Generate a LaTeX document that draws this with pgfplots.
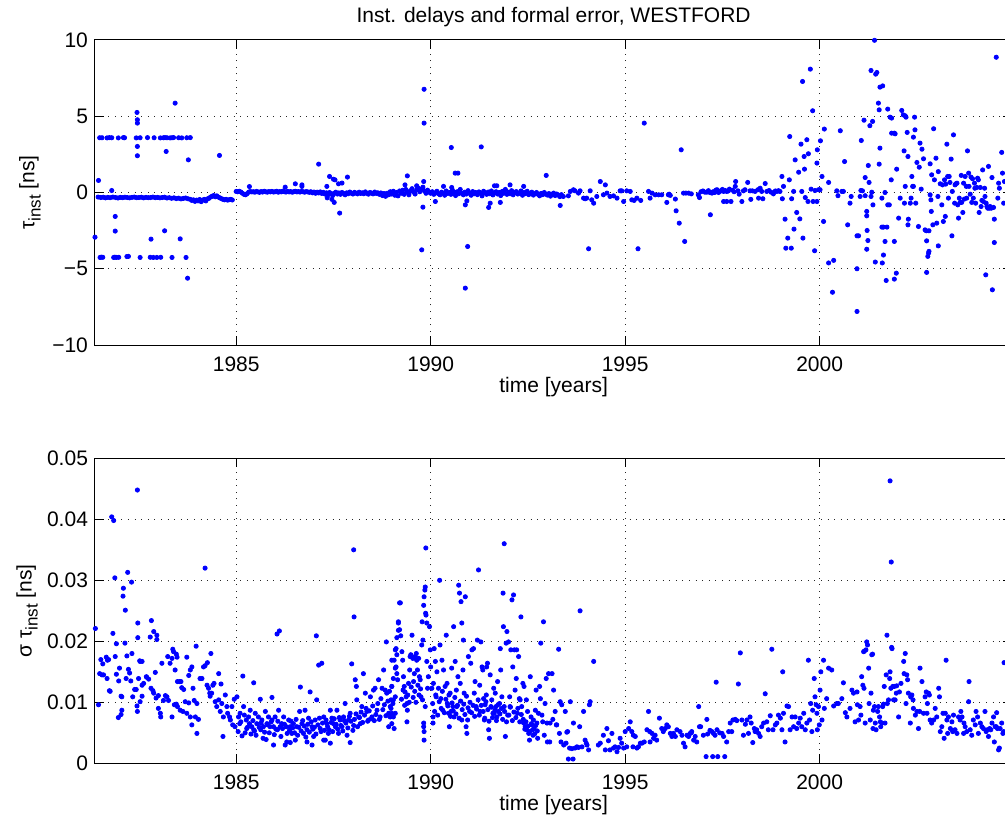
\documentclass[border=0pt]{standalone}
\usepackage{pgfplots}
\pgfplotsset{compat=1.18}
\usepackage{fontspec}
\setmainfont{Liberation Sans}
\definecolor{mblue}{rgb}{0,0,1}
\pgfplotsset{
 mstyle/.style={
  scale only axis, width=458.6pt, height=152.5pt,
  xmin=1981.37, xmax=2004.95,
  xtick={1985,1990,1995,2000}, xticklabels={1985,1990,1995,2000},
  tick align=inside, xtick pos=both, ytick pos=both,
  major tick length=4.5pt,
  grid=major,
  major grid style={draw=black!85, line width=0.5pt, dash pattern=on 0.5pt off 2.8pt},
  axis line style={line width=0.5pt},
  every tick/.style={black, line width=0.5pt},
  tick label style={font=\fontsize{10.5}{12}\selectfont},
  xticklabel style={yshift=-2.2pt},
  label style={font=\fontsize{10.5}{12}\selectfont},
  xlabel={time [years]},
  xlabel style={at={(axis description cs:0.5,-0.1377)}, anchor=center},
  scaled y ticks=false,
 },
 mpts/.style={only marks, mark=*, mark size=1.05pt, color=mblue, mark options={draw=mblue, fill=mblue}},
}
\begin{document}
\begin{tikzpicture}
\useasboundingbox (0,0) rectangle (502.5pt,410pt);
% ---------------- top ----------------
\begin{axis}[mstyle, at={(47.5pt,237.5pt)}, anchor=south west,
  ymin=-10, ymax=10, ytick={-10,-5,0,5,10}, yticklabels={−10,−5,0,5,10},
  ylabel={τ\raisebox{-0.55ex}{\fontsize{8.5}{10}\selectfont inst} [ns]},
  ylabel style={at={(axis description cs:-0.0709,0.5)}, anchor=center},
  title={Inst. delays and formal error, WESTFORD},
  every axis title shift=0pt,
  title style={at={(axis description cs:0.5,1.0754)}, anchor=center, yshift=0pt, font=\fontsize{10.5}{12}\selectfont}]
\addplot[mpts] coordinates {
(1981.49,3.59) (1981.55,3.59) (1981.68,3.58) (1981.74,3.60) (1981.80,3.59) (1981.97,3.58) (1982.10,3.60) (1982.13,3.59) (1982.43,3.58) (1982.53,3.59) (1982.72,3.60) (1982.89,3.59) (1983.05,3.58) (1983.13,3.59) (1983.17,3.60) (1983.22,3.59) (1983.30,3.58) (1983.35,3.59) (1983.39,3.60) (1983.52,3.59) (1983.60,3.58) (1983.73,3.59) (1983.82,3.60)
(1981.50,-4.26) (1981.53,-4.24) (1981.57,-4.25) (1981.85,-4.26) (1981.88,-4.24) (1981.92,-4.26) (1981.98,-4.25) (1982.19,-4.20) (1982.23,-4.19) (1982.53,-4.26) (1982.79,-4.25) (1982.87,-4.26) (1982.96,-4.26) (1983.06,-4.25) (1983.35,-4.26) (1983.71,-4.26)
(1981.37,-2.93) (1981.46,0.79) (1981.80,0.13) (1981.89,-1.57) (1981.89,-2.53) (1982.45,5.25) (1982.46,4.77) (1982.46,4.55) (1982.46,3.02) (1982.46,2.41) (1982.81,-3.06) (1983.16,-2.51) (1983.20,2.69) (1983.43,5.86) (1983.56,-3.04) (1983.75,-5.62) (1983.77,2.14) (1984.57,2.43) (1987.12,1.86) (1987.40,1.05) (1987.50,0.87) (1987.33,0.40) (1986.52,0.57) (1986.69,0.50) (1986.69,0.40) (1985.34,0.39) (1986.26,0.35)
(1981.45,-0.30) (1981.52,-0.33) (1981.58,-0.31) (1981.64,-0.35) (1981.70,-0.32) (1981.76,-0.34) (1981.83,-0.30) (1981.90,-0.33) (1981.96,-0.36) (1982.02,-0.32) (1982.08,-0.34) (1982.14,-0.31) (1982.20,-0.33) (1982.26,-0.35) (1982.32,-0.32) (1982.38,-0.30) (1982.44,-0.34) (1982.50,-0.33) (1982.56,-0.31) (1982.62,-0.35) (1982.68,-0.32) (1982.74,-0.34) (1982.80,-0.33) (1982.86,-0.30) (1982.92,-0.34) (1982.98,-0.32) (1983.04,-0.35) (1983.10,-0.33) (1983.16,-0.31) (1983.22,-0.36) (1983.28,-0.34) (1983.34,-0.38) (1983.40,-0.35) (1983.46,-0.40) (1983.52,-0.37) (1983.58,-0.42) (1983.64,-0.39) (1983.70,-0.36) (1983.76,-0.41)
(1983.82,-0.45) (1983.86,-0.52) (1983.90,-0.48) (1983.94,-0.58) (1983.98,-0.50) (1984.02,-0.55) (1984.06,-0.46) (1984.10,-0.60) (1984.14,-0.50) (1984.18,-0.45) (1984.22,-0.55) (1984.26,-0.42) (1984.30,-0.38)
(1984.34,-0.30) (1984.38,-0.25) (1984.42,-0.20) (1984.46,-0.28) (1984.50,-0.22) (1984.54,-0.30) (1984.58,-0.35) (1984.62,-0.40) (1984.66,-0.45) (1984.70,-0.48) (1984.74,-0.45) (1984.78,-0.50) (1984.82,-0.47) (1984.86,-0.45) (1984.90,-0.49)
(1985.00,0.07) (1985.04,0.05) (1985.08,0.08) (1985.12,0.03) (1985.16,-0.05) (1985.20,-0.12) (1985.24,-0.15) (1985.28,-0.08) (1985.32,0.02) (1985.36,0.06) (1985.40,0.04)
(1985.44,0.05) (1985.48,0.02) (1985.52,0.07) (1985.56,0.04) (1985.60,0.01) (1985.64,0.06) (1985.68,0.03) (1985.72,0.08) (1985.76,0.05) (1985.80,0.02) (1985.84,0.06) (1985.88,0.04) (1985.92,0.07) (1985.96,0.03) (1986.00,0.05) (1986.04,0.08) (1986.08,0.02) (1986.12,0.06) (1986.16,0.04) (1986.20,0.09) (1986.24,0.05) (1986.28,0.03) (1986.32,0.07) (1986.36,0.04) (1986.40,0.06) (1986.44,0.02) (1986.48,0.05) (1986.52,0.08) (1986.56,0.04) (1986.60,0.06) (1986.64,0.03) (1986.68,0.07) (1986.72,0.05) (1986.76,0.02) (1986.80,0.06) (1986.84,0.04) (1986.88,0.01) (1986.92,0.05) (1986.96,-0.02) (1987.00,0.03) (1987.04,-0.05) (1987.08,0.02) (1987.12,-0.03) (1987.16,0.04) (1987.20,-0.06) (1987.24,0.01) (1987.28,-0.10) (1987.32,-0.02) (1987.36,-0.15) (1987.40,0.00) (1987.44,-0.08) (1987.48,-0.20) (1987.34,-0.35) (1987.46,-0.45) (1987.52,-0.65)
(1987.52,-0.05) (1987.56,0.02) (1987.60,-0.10) (1987.64,-0.03) (1987.68,-0.12) (1987.72,0.00) (1987.76,-0.06) (1987.80,-0.15) (1987.84,-0.02) (1987.88,-0.08) (1987.92,0.03) (1987.96,-0.05) (1988.00,-0.10) (1988.04,0.01) (1988.08,-0.04) (1988.12,-0.09) (1988.16,0.02) (1988.20,-0.06) (1988.24,-0.02) (1988.28,-0.08) (1988.32,0.04) (1988.36,-0.05) (1988.40,-0.11) (1988.44,0.00) (1988.48,-0.04) (1988.52,-0.09) (1988.56,0.03) (1988.60,-0.06) (1988.64,-0.02) (1988.68,-0.12) (1988.72,-0.03) (1988.76,-0.20) (1988.80,-0.07) (1988.84,-0.25) (1988.88,-0.05) (1988.92,-0.15) (1988.96,0.05) (1989.00,-0.10) (1989.04,0.08) (1989.08,-0.18) (1989.12,0.00) (1989.16,-0.22) (1989.20,0.10) (1989.24,-0.05) (1989.28,0.15) (1989.32,-0.12) (1989.36,0.20) (1989.40,0.05) (1989.44,-0.15) (1989.48,0.12) (1989.52,0.25) (1989.56,0.02) (1989.60,-0.10) (1989.64,0.18) (1989.68,0.30) (1989.72,0.05) (1989.76,0.22) (1989.80,0.35) (1989.84,0.10) (1989.88,-0.05) (1989.92,0.15) (1989.96,0.02)
(1990.00,-0.05) (1990.04,0.05) (1990.08,-0.12) (1990.12,-0.02) (1990.16,0.08) (1990.20,-0.08) (1990.24,-0.15) (1990.28,0.02) (1990.32,-0.05) (1990.36,-0.18) (1990.40,0.10) (1990.44,-0.06) (1990.48,0.00) (1990.52,-0.12) (1990.56,0.15) (1990.60,-0.03) (1990.64,-0.20) (1990.68,0.05) (1990.72,-0.08) (1990.76,0.20) (1990.80,-0.05) (1990.84,-0.15) (1990.88,0.02) (1990.92,-0.10) (1990.96,0.12) (1991.00,-0.04) (1991.04,-0.18) (1991.08,0.06) (1991.12,-0.08) (1991.16,0.00) (1991.20,-0.14) (1991.24,0.04) (1991.28,-0.06) (1991.32,-0.22) (1991.36,0.08) (1991.40,-0.02) (1991.44,-0.12) (1991.48,0.03) (1991.52,-0.08) (1991.56,0.10) (1991.60,-0.16) (1991.64,-0.03) (1991.68,0.05) (1991.72,-0.10) (1991.76,0.00) (1991.80,-0.20) (1991.84,0.07) (1991.88,-0.05) (1991.92,0.20) (1991.96,-0.12) (1992.00,0.02) (1992.04,-0.08) (1992.08,0.12) (1992.12,-0.15) (1992.16,-0.02) (1992.20,0.06) (1992.24,-0.10) (1992.28,-0.04) (1992.32,0.10) (1992.36,-0.18) (1992.40,0.00) (1992.44,-0.07) (1992.48,0.08) (1992.52,-0.14) (1992.56,-0.06) (1992.60,0.02) (1992.64,-0.17) (1992.68,-0.08) (1992.72,0.00) (1992.76,-0.12) (1992.80,-0.22) (1992.84,-0.06) (1992.88,-0.14) (1992.92,0.00) (1992.96,-0.10) (1993.00,-0.17) (1993.04,-0.07) (1993.08,-0.24) (1993.12,-0.12) (1993.16,-0.04) (1993.20,-0.20) (1993.24,-0.10) (1993.28,-0.17) (1993.32,-0.27) (1993.36,-0.14)
(1989.83,6.77) (1989.83,4.55) (1989.77,-3.76) (1989.80,-0.96) (1990.53,2.95) (1991.30,2.99) (1990.63,1.27) (1990.70,1.27) (1990.95,-3.54) (1990.89,-6.27) (1992.97,1.12) (1994.06,-3.69) (1995.33,-3.69) (1995.49,4.55) (1994.36,0.72) (1994.49,0.50) (1987.66,-1.35) (1987.54,0.83) (1987.63,0.57) (1987.72,0.62) (1987.86,1.01) (1989.40,1.09) (1989.34,0.50) (1989.64,0.44) (1989.82,0.72) (1991.49,-0.98) (1991.53,-0.70) (1991.79,-0.65) (1990.89,-0.81) (1990.93,-0.55) (1990.12,-0.59) (1993.33,-0.85) (1994.19,-0.70) (1992.04,0.50) (1991.64,0.44) (1991.70,0.44) (1992.39,0.40) (1990.33,0.40) (1990.54,0.33)
(1993.41,-0.26) (1993.54,-0.22) (1993.59,0.07) (1993.67,0.18) (1993.71,0.11) (1993.80,-0.04) (1993.84,0.11) (1993.93,-0.37) (1993.97,-0.41) (1994.01,-0.37) (1994.10,0.11) (1994.14,-0.48) (1994.27,-0.26) (1994.44,-0.15) (1994.53,-0.04) (1994.61,-0.26) (1994.70,-0.22) (1994.79,-0.37) (1994.87,0.11) (1994.91,0.11) (1994.96,-0.59) (1995.04,0.11) (1995.13,0.07) (1995.17,-0.48) (1995.23,-0.52) (1995.30,-0.37) (1995.40,-0.52) (1995.60,0.07) (1995.64,-0.37) (1995.69,-0.04) (1995.77,-0.15) (1995.86,-0.15) (1995.94,-0.15) (1996.11,-0.15)
(1996.07,-0.65) (1996.13,-0.11) (1996.16,-0.19) (1996.29,-0.43) (1996.31,-1.20) (1996.39,-2.01) (1996.44,2.80) (1996.53,-3.21) (1996.50,-0.04) (1996.56,-0.04) (1996.63,-0.04) (1996.70,-0.09) (1996.88,-0.15) (1996.91,-0.33) (1997.10,0.02) (1997.18,0.00) (1997.19,-1.46) (1997.23,-0.04) (1997.30,0.00) (1997.36,0.18) (1997.40,0.00) (1997.47,0.13) (1997.53,0.07) (1997.57,0.13) (1997.61,0.07) (1997.53,-0.59) (1997.61,-0.59) (1997.72,-0.59)
(1996.95,0.05) (1997.00,0.10) (1997.05,0.02) (1997.14,0.12) (1997.26,0.05) (1997.33,0.15) (1997.44,0.08) (1997.50,0.20) (1997.65,0.10) (1997.68,0.22) (1997.76,0.15) (1997.80,0.05)
(1997.83,0.40) (1997.84,0.72) (1997.90,0.11) (1997.93,-0.11) (1998.00,-0.59) (1998.04,0.11) (1998.08,0.18) (1998.15,0.66) (1998.21,0.11) (1998.23,-0.45) (1998.27,0.11) (1998.34,0.07) (1998.41,0.18) (1998.43,-0.37) (1998.47,0.28) (1998.51,0.07) (1998.54,-0.41) (1998.60,0.59) (1998.64,0.07) (1998.70,0.13) (1998.75,0.02) (1998.81,-0.09) (1998.86,0.10) (1998.90,0.07) (1998.94,0.12) (1998.98,0.07) (1999.03,1.05) (1999.04,-0.41) (1999.07,0.40) (1999.11,-1.75) (1999.13,-3.65) (1999.18,-2.99) (1999.22,0.83) (1999.23,3.67) (1999.27,-3.65) (1999.28,-0.41) (1999.33,0.07) (1999.34,-2.40) (1999.37,2.14) (1999.41,-1.31) (1999.46,1.33) (1999.49,-1.73) (1999.52,3.17) (1999.54,0.07) (1999.56,7.28) (1999.57,-2.99) (1999.60,2.36) (1999.61,1.53) (1999.63,-0.33) (1999.67,3.46) (1999.70,-0.59) (1999.71,2.54) (1999.76,8.09) (1999.78,0.22) (1999.82,5.36) (1999.83,-0.59) (1999.87,-3.82) (1999.88,0.13) (1999.93,-0.59) (1999.93,1.93) (1999.94,2.80) (1999.97,0.18) (2000.01,0.18) (2000.02,3.39) (2000.06,1.05) (2000.10,-1.90) (2000.12,4.16)
(2000.23,-4.62) (2000.23,0.66) (2000.33,-6.54) (2000.36,-4.45) (2000.44,0.11) (2000.47,-0.21) (2000.53,4.05) (2000.57,0.07) (2000.61,0.07) (2000.64,2.03) (2000.72,-2.12) (2000.78,-0.70) (2000.81,-0.26) (2000.96,-7.80) (2000.96,-5.00) (2000.96,-2.84) (2001.00,-2.84) (2001.04,-0.26) (2001.06,0.13) (2001.07,3.41) (2001.10,0.11) (2001.14,4.74) (2001.17,0.98) (2001.17,-0.21) (2001.21,-1.24) (2001.21,-1.53) (2001.21,-3.72) (2001.22,-2.49) (2001.24,-3.15) (2001.25,1.77) (2001.27,0.66) (2001.29,4.38) (2001.32,8.00) (2001.32,-0.26) (2001.34,0.02) (2001.36,4.66) (2001.37,-0.81) (2001.41,9.98) (2001.43,-4.56) (2001.44,7.76) (2001.47,7.87) (2001.51,5.86) (2001.53,1.86) (2001.53,5.42) (2001.55,2.91) (2001.55,6.91) (2001.60,-0.37) (2001.60,-2.27) (2001.61,-4.62) (2001.62,6.99) (2001.64,-2.27) (2001.64,-4.10) (2001.68,0.00) (2001.68,-3.21) (2001.71,-5.77) (2001.73,-2.27) (2001.75,-0.81) (2001.75,5.47) (2001.79,-0.81) (2001.81,4.94) (2001.84,0.83) (2001.85,3.89) (2001.85,4.88) (2001.92,3.89) (2001.92,-5.68) (2001.92,-3.21) (2001.94,3.85) (2001.97,-5.29) (2001.98,1.53)
(2002.03,-1.68) (2002.07,-0.37) (2002.11,5.38) (2002.15,5.09) (2002.17,2.73) (2002.18,-0.70) (2002.20,5.03) (2002.20,0.40) (2002.22,4.94) (2002.25,3.94) (2002.27,-2.12) (2002.27,2.36) (2002.28,-1.75) (2002.33,-0.70) (2002.35,-0.37) (2002.37,1.05) (2002.39,0.40) (2002.41,0.40) (2002.41,3.63) (2002.44,4.94) (2002.45,4.11) (2002.47,-0.70) (2002.50,1.97) (2002.54,-2.23) (2002.56,1.66) (2002.58,3.24) (2002.61,0.22) (2002.63,2.84) (2002.67,2.21) (2002.71,-2.45) (2002.74,-2.51) (2002.75,-3.17) (2002.75,-5.24) (2002.78,-4.19) (2002.80,-3.97) (2002.81,-3.86) (2002.81,-2.51) (2002.84,1.88) (2002.84,-0.15) (2002.86,-0.48) (2002.87,-1.24) (2002.88,1.16) (2002.91,-2.12) (2002.93,4.18) (2002.95,0.83) (2002.99,2.25)
(2003.01,-2.01) (2003.04,-0.26) (2003.05,-3.50) (2003.05,1.37) (2003.10,0.57) (2003.14,-0.81) (2003.16,0.50) (2003.18,-1.90) (2003.21,0.83) (2003.23,-1.57) (2003.24,0.55) (2003.27,3.17) (2003.29,1.05) (2003.31,-0.37) (2003.33,1.05) (2003.35,0.66) (2003.38,2.19) (2003.40,-2.84) (2003.41,0.07) (2003.44,3.78) (2003.47,-0.70) (2003.48,0.50) (2003.50,0.57) (2003.53,0.61) (2003.55,-0.81) (2003.57,-1.68) (2003.59,-0.37) (2003.61,-0.65) (2003.64,1.12) (2003.65,-0.65) (2003.68,-1.31) (2003.70,0.61) (2003.72,-0.43) (2003.74,1.05) (2003.77,0.40) (2003.78,-0.37) (2003.80,2.73) (2003.83,1.27) (2003.84,0.40) (2003.87,-0.11) (2003.89,1.01) (2003.91,-0.65) (2003.93,0.90) (2003.95,-0.37) (2003.98,0.61) (2003.99,0.28)
(2004.01,-0.70) (2004.04,0.33) (2004.06,0.94) (2004.08,0.83) (2004.10,-1.31) (2004.13,0.33) (2004.15,-0.92) (2004.17,-0.52) (2004.19,1.48) (2004.21,-0.59) (2004.24,0.28) (2004.25,-0.26) (2004.27,-5.40) (2004.28,-0.70) (2004.30,-0.92) (2004.32,-1.03) (2004.34,1.71) (2004.36,-1.03) (2004.38,-0.92) (2004.41,-1.03) (2004.43,0.98) (2004.44,-6.38) (2004.47,-0.98) (2004.49,-1.75) (2004.49,-3.28) (2004.54,8.87) (2004.58,-0.37) (2004.60,0.61) (2004.62,0.28) (2004.68,2.63) (2004.70,1.27) (2004.73,-0.70) (2004.75,0.72)
};
\end{axis}
% ---------------- bottom ----------------
\begin{axis}[mstyle, at={(47.5pt,28.35pt)}, anchor=south west,
  ymin=0, ymax=0.05, ytick={0,0.01,0.02,0.03,0.04,0.05}, yticklabels={0,0.01,0.02,0.03,0.04,0.05},
  ylabel={σ τ\raisebox{-0.55ex}{\fontsize{8.5}{10}\selectfont inst} [ns]},
  ylabel style={at={(axis description cs:-0.0741,0.5)}, anchor=center}]
\addplot[mpts] coordinates {
(1981.38,0.0221) (1981.46,0.0096) (1981.49,0.0147) (1981.55,0.0145) (1981.59,0.0145) (1981.52,0.0170) (1981.57,0.0163) (1981.66,0.0174) (1981.69,0.0169) (1981.72,0.0170) (1981.68,0.0139) (1981.74,0.0119) (1981.76,0.0118) (1981.83,0.0213) (1981.88,0.0304) (1981.92,0.0196) (1981.89,0.0175) (1981.92,0.0146) (1981.98,0.0135) (1982.00,0.0156) (1982.04,0.0110) (1982.06,0.0109) (1982.04,0.0080) (1982.06,0.0087) (1981.97,0.0075) (1982.09,0.0274) (1982.10,0.0287) (1982.15,0.0251) (1982.14,0.0197) (1982.17,0.0139) (1982.21,0.0313) (1982.23,0.0154) (1982.26,0.0148) (1982.29,0.0135) (1982.31,0.0297) (1982.19,0.0176) (1982.32,0.0180) (1982.34,0.0109) (1982.39,0.0121) (1982.43,0.0121) (1982.45,0.0094) (1982.46,0.0085) (1982.47,0.0230) (1982.47,0.0206) (1982.49,0.0139) (1982.52,0.0168) (1982.53,0.0167) (1982.58,0.0167) (1982.53,0.0101) (1982.58,0.0110) (1982.58,0.0128) (1982.62,0.0131) (1982.69,0.0142) (1982.70,0.0141) (1982.75,0.0138) (1982.79,0.0207) (1982.82,0.0234) (1982.88,0.0216) (1982.96,0.0210) (1982.96,0.0203) (1982.81,0.0123) (1982.86,0.0119) (1982.88,0.0115) (1982.92,0.0149) (1982.94,0.0107) (1983.00,0.0111) (1983.00,0.0090) (1983.05,0.0082) (1983.06,0.0076) (1983.13,0.0103) (1983.18,0.0111) (1983.22,0.0109) (1983.26,0.0103) (1983.09,0.0164) (1983.24,0.0175) (1983.30,0.0164) (1983.35,0.0172) (1983.37,0.0187) (1983.39,0.0183) (1983.43,0.0153) (1983.46,0.0179) (1983.48,0.0174) (1983.49,0.0134) (1983.54,0.0134) (1983.58,0.0134) (1983.35,0.0076) (1983.41,0.0096) (1983.46,0.0097) (1983.49,0.0093) (1983.56,0.0087) (1983.63,0.0085) (1983.69,0.0101) (1983.73,0.0082) (1983.78,0.0099) (1983.60,0.0124) (1983.65,0.0121) (1983.73,0.0174) (1983.78,0.0144) (1983.82,0.0153) (1983.86,0.0158) (1983.89,0.0123) (1983.92,0.0103) (1983.97,0.0192) (1983.99,0.0098) (1983.82,0.0076) (1983.86,0.0063) (1983.95,0.0076) (1983.99,0.0049) (1984.03,0.0072) (1984.07,0.0139) (1984.12,0.0139) (1984.16,0.0158) (1984.20,0.0160) (1984.20,0.0320) (1984.25,0.0128) (1984.26,0.0165) (1984.29,0.0123) (1984.32,0.0115) (1984.33,0.0110) (1984.35,0.0180) (1984.37,0.0115) (1984.40,0.0128) (1984.43,0.0131) (1984.46,0.0101) (1984.50,0.0093) (1984.55,0.0104) (1984.55,0.0147) (1984.59,0.0085) (1984.61,0.0130) (1984.63,0.0098) (1984.66,0.0044) (1984.67,0.0076) (1984.72,0.0112) (1984.76,0.0093) (1984.78,0.0082) (1984.83,0.0076) (1984.85,0.0071) (1984.89,0.0093) (1984.91,0.0063) (1984.95,0.0105) (1984.97,0.0060) (1985.02,0.0109) (1985.06,0.0076) (1985.09,0.0065) (1985.10,0.0082) (1985.17,0.0143)
(1981.80,0.0404) (1981.85,0.0398) (1982.46,0.0448) (1986.05,0.0212) (1986.11,0.0217) (1987.06,0.0209)
(1985.19,0.0093) (1985.23,0.0050) (1985.26,0.0071) (1985.27,0.0057) (1985.32,0.0076) (1985.34,0.0065) (1985.36,0.0087) (1985.40,0.0060) (1985.45,0.0132) (1985.45,0.0055) (1985.49,0.0082) (1985.53,0.0065) (1985.57,0.0076) (1985.62,0.0105) (1985.63,0.0055) (1985.66,0.0071) (1985.69,0.0041) (1985.70,0.0060) (1985.75,0.0085) (1985.79,0.0065) (1985.83,0.0076) (1985.87,0.0060) (1985.92,0.0108) (1985.92,0.0071) (1985.96,0.0060) (1986.00,0.0076) (1986.06,0.0055) (1986.09,0.0087) (1986.13,0.0060) (1986.17,0.0065) (1986.22,0.0076) (1986.26,0.0030) (1986.29,0.0060) (1986.35,0.0071) (1986.39,0.0060) (1986.43,0.0049) (1986.47,0.0065) (1986.52,0.0038) (1986.56,0.0060) (1986.63,0.0085) (1986.65,0.0125) (1986.69,0.0065) (1986.73,0.0049) (1986.77,0.0087) (1986.82,0.0055) (1986.86,0.0074) (1986.90,0.0117) (1986.95,0.0060) (1986.99,0.0044) (1987.03,0.0071) (1987.07,0.0104) (1987.12,0.0161) (1987.16,0.0057) (1987.20,0.0164) (1987.25,0.0076) (1987.29,0.0038) (1987.33,0.0065) (1987.37,0.0049) (1987.42,0.0087) (1987.46,0.0074) (1987.50,0.0065) (1987.55,0.0060) (1987.59,0.0087) (1987.63,0.0049) (1987.67,0.0071) (1987.72,0.0060) (1987.76,0.0076) (1987.80,0.0098) (1987.85,0.0046) (1987.89,0.0071) (1987.93,0.0082) (1987.97,0.0163) (1988.02,0.0062) (1988.02,0.0350) (1988.03,0.0240) (1988.06,0.0137) (1988.09,0.0126) (1988.10,0.0104) (1988.15,0.0076) (1988.19,0.0065) (1988.23,0.0093) (1988.27,0.0147) (1988.32,0.0115) (1988.36,0.0085) (1988.40,0.0071) (1988.45,0.0109) (1988.49,0.0076) (1988.53,0.0120) (1988.57,0.0123) (1988.62,0.0087) (1988.66,0.0137) (1988.70,0.0076) (1988.75,0.0123) (1988.79,0.0153) (1988.83,0.0120) (1988.86,0.0199) (1988.87,0.0115) (1988.92,0.0060) (1988.96,0.0093) (1989.00,0.0169) (1989.04,0.0104) (1989.09,0.0109) (1989.11,0.0188) (1989.13,0.0206) (1989.17,0.0232) (1989.20,0.0263) (1989.17,0.0218) (1989.13,0.0178) (1989.09,0.0156) (1989.04,0.0139) (1989.00,0.0126) (1988.96,0.0076) (1988.92,0.0082) (1989.00,0.0065) (1989.09,0.0082) (1989.06,0.0057)
(1985.05,0.0052) (1985.12,0.0068) (1985.15,0.0045) (1985.21,0.0079) (1985.29,0.0059) (1985.38,0.0048) (1985.43,0.0070) (1985.47,0.0053) (1985.51,0.0046) (1985.59,0.0059) (1985.64,0.0066) (1985.73,0.0051) (1985.77,0.0039) (1985.81,0.0063) (1985.85,0.0050) (1985.90,0.0068) (1985.98,0.0047) (1986.02,0.0056) (1986.07,0.0069) (1986.15,0.0044) (1986.19,0.0057) (1986.24,0.0064) (1986.31,0.0049) (1986.37,0.0054) (1986.41,0.0069) (1986.45,0.0058) (1986.50,0.0050) (1986.54,0.0072) (1986.58,0.0046) (1986.61,0.0059) (1986.67,0.0053) (1986.71,0.0070) (1986.75,0.0061) (1986.79,0.0043) (1986.84,0.0064) (1986.88,0.0051) (1986.93,0.0068) (1986.97,0.0056) (1987.01,0.0059) (1987.05,0.0048) (1987.10,0.0063) (1987.14,0.0074) (1987.18,0.0052) (1987.22,0.0066) (1987.27,0.0054) (1987.31,0.0071) (1987.35,0.0060) (1987.39,0.0055) (1987.44,0.0067) (1987.48,0.0052) (1987.52,0.0073) (1987.57,0.0064) (1987.61,0.0056) (1987.65,0.0075) (1987.69,0.0062) (1987.74,0.0053) (1987.78,0.0070) (1987.82,0.0066) (1987.87,0.0058) (1987.91,0.0077) (1987.95,0.0069) (1988.00,0.0054) (1988.04,0.0072) (1988.08,0.0081) (1988.12,0.0060) (1988.17,0.0075) (1988.21,0.0084) (1988.25,0.0067) (1988.30,0.0079) (1988.34,0.0090) (1988.38,0.0069) (1988.42,0.0086) (1988.47,0.0073) (1988.51,0.0094) (1988.55,0.0070) (1988.59,0.0080) (1988.64,0.0098) (1988.68,0.0072) (1988.72,0.0106) (1988.77,0.0088) (1988.81,0.0096) (1988.85,0.0078) (1988.90,0.0102) (1988.94,0.0118) (1988.98,0.0090)
(1985.96,0.0030) (1986.39,0.0034) (1986.82,0.0035) (1986.95,0.0030) (1987.25,0.0038) (1987.42,0.0033) (1987.93,0.0034) (1986.30,0.0035)
(1989.25,0.0105) (1989.29,0.0120) (1989.33,0.0095) (1989.41,0.0112) (1989.45,0.0100) (1989.50,0.0125) (1989.55,0.0108) (1989.59,0.0118) (1989.62,0.0100) (1989.67,0.0128) (1989.70,0.0112) (1989.74,0.0122) (1989.79,0.0104)
(1990.05,0.0098) (1990.10,0.0085) (1990.13,0.0112) (1990.18,0.0079) (1990.22,0.0101) (1990.27,0.0090) (1990.30,0.0118) (1990.35,0.0083) (1990.39,0.0105) (1990.44,0.0094) (1990.47,0.0112) (1990.51,0.0077) (1990.55,0.0099) (1990.58,0.0086) (1990.62,0.0108) (1990.65,0.0081) (1990.69,0.0095) (1990.73,0.0074) (1990.77,0.0102) (1990.81,0.0088) (1990.85,0.0097) (1990.88,0.0080) (1990.92,0.0110) (1990.96,0.0091) (1991.01,0.0100) (1991.05,0.0083) (1991.09,0.0095) (1991.13,0.0077) (1991.18,0.0089) (1991.22,0.0104) (1991.25,0.0079) (1991.30,0.0095) (1991.35,0.0085) (1991.39,0.0074) (1991.42,0.0101) (1991.47,0.0088) (1991.50,0.0069) (1991.56,0.0092) (1991.59,0.0075) (1991.65,0.0087) (1991.69,0.0070) (1991.73,0.0096) (1991.78,0.0081) (1991.82,0.0090) (1991.85,0.0072) (1991.90,0.0085) (1991.95,0.0068) (1992.01,0.0079) (1992.05,0.0092) (1992.10,0.0070) (1992.14,0.0084) (1992.19,0.0075) (1992.24,0.0090) (1992.29,0.0068) (1992.33,0.0080) (1992.38,0.0072) (1992.42,0.0056) (1992.45,0.0068) (1992.50,0.0061) (1992.55,0.0052) (1992.59,0.0065) (1992.62,0.0055) (1992.67,0.0048) (1992.70,0.0062) (1992.74,0.0053)
(1989.00,0.0126) (1988.98,0.0104) (1989.03,0.0098) (1989.00,0.0082) (1989.04,0.0076) (1989.06,0.0169) (1989.09,0.0186) (1989.11,0.0158) (1989.13,0.0147) (1989.15,0.0137) (1989.17,0.0230) (1989.20,0.0219) (1989.22,0.0263) (1989.23,0.0209) (1989.26,0.0183) (1989.28,0.0169) (1989.30,0.0142) (1989.32,0.0126) (1989.34,0.0117) (1989.37,0.0109) (1989.39,0.0098) (1989.40,0.0087) (1989.39,0.0068) (1989.43,0.0131) (1989.46,0.0153) (1989.47,0.0175) (1989.49,0.0178) (1989.52,0.0210) (1989.54,0.0172) (1989.56,0.0134) (1989.58,0.0147) (1989.60,0.0175) (1989.63,0.0180) (1989.64,0.0169) (1989.66,0.0153) (1989.69,0.0172) (1989.71,0.0142) (1989.73,0.0137) (1989.75,0.0109) (1989.77,0.0194) (1989.78,0.0232) (1989.80,0.0202) (1989.82,0.0259) (1989.83,0.0273) (1989.85,0.0284) (1989.86,0.0289) (1989.87,0.0246) (1989.88,0.0243) (1989.90,0.0230) (1989.90,0.0167) (1989.92,0.0123) (1989.94,0.0142) (1989.82,0.0066) (1989.82,0.0060) (1989.83,0.0052) (1989.83,0.0038) (1989.86,0.0093) (1989.875,0.0353) (1989.97,0.0224) (1989.99,0.0186) (1990.00,0.0158) (1990.03,0.0123) (1990.06,0.0076) (1990.06,0.0066) (1990.07,0.0131) (1990.09,0.0188) (1990.12,0.0167) (1990.14,0.0109) (1990.16,0.0150) (1990.20,0.0123) (1990.23,0.0300) (1990.24,0.0194) (1990.26,0.0106) (1990.29,0.0169) (1990.31,0.0087) (1990.33,0.0153) (1990.37,0.0126) (1990.40,0.0210) (1990.42,0.0131) (1990.43,0.0098) (1990.46,0.0082) (1990.48,0.0060) (1990.50,0.0115) (1990.52,0.0085) (1990.54,0.0156) (1990.57,0.0093) (1990.59,0.0224) (1990.60,0.0076) (1990.63,0.0167) (1990.66,0.0120) (1990.67,0.0093) (1990.70,0.0142) (1990.72,0.0292) (1990.74,0.0279) (1990.76,0.0131) (1990.78,0.0265) (1990.80,0.0230) (1990.80,0.0071) (1990.83,0.0153) (1990.84,0.0202) (1990.86,0.0115) (1990.89,0.0273) (1990.91,0.0060) (1990.93,0.0049) (1990.95,0.0071) (1990.97,0.0175) (1991.00,0.0085) (1991.03,0.0164) (1991.06,0.0186) (1991.10,0.0188) (1991.12,0.0115) (1991.14,0.0134) (1991.17,0.0093) (1991.20,0.0202) (1991.23,0.0317) (1991.26,0.0128) (1991.27,0.0085) (1991.29,0.0199) (1991.32,0.0158) (1991.34,0.0153) (1991.36,0.0106) (1991.38,0.0071) (1991.40,0.0096) (1991.43,0.0112) (1991.44,0.0158) (1991.46,0.0164) (1991.49,0.0055) (1991.51,0.0041) (1991.53,0.0145) (1991.55,0.0093) (1991.57,0.0104) (1991.60,0.0082) (1991.62,0.0123) (1991.63,0.0082) (1991.66,0.0115) (1991.68,0.0093) (1991.70,0.0076) (1991.72,0.0134) (1991.74,0.0085) (1991.77,0.0098) (1991.79,0.0188) (1991.80,0.0153) (1991.83,0.0109) (1991.86,0.0279) (1991.87,0.0224) (1991.89,0.0093) (1991.89,0.0360) (1991.92,0.0044) (1991.94,0.0197) (1991.96,0.0216) (1991.98,0.0079) (1992.00,0.0199) (1992.03,0.0109) (1992.04,0.0093) (1992.06,0.0186) (1992.09,0.0268) (1992.11,0.0158) (1992.13,0.0276) (1992.15,0.0186) (1992.17,0.0120) (1992.20,0.0139) (1992.21,0.0186) (1992.23,0.0082) (1992.26,0.0175) (1992.28,0.0106) (1992.30,0.0104) (1992.32,0.0240) (1992.34,0.0093) (1992.37,0.0131) (1992.39,0.0066) (1992.40,0.0126) (1992.43,0.0060) (1992.46,0.0104) (1992.47,0.0055) (1992.49,0.0085) (1992.52,0.0049) (1992.54,0.0038) (1992.56,0.0142) (1992.58,0.0076) (1992.60,0.0063) (1992.63,0.0046) (1992.64,0.0071) (1992.66,0.0057) (1992.69,0.0087) (1992.71,0.0120) (1992.73,0.0066) (1992.75,0.0041) (1992.77,0.0082) (1992.80,0.0126) (1992.82,0.0106) (1992.83,0.0197) (1992.86,0.0079) (1992.88,0.0068) (1992.90,0.0232) (1992.92,0.0046) (1992.94,0.0098) (1992.97,0.0139) (1992.99,0.0066) (1993.00,0.0035) (1993.03,0.0147) (1993.06,0.0035) (1993.07,0.0066) (1993.12,0.0147) (1993.14,0.0072) (1993.16,0.0120) (1993.20,0.0085) (1993.23,0.0063) (1993.24,0.0063) (1993.29,0.0187) (1993.31,0.0049) (1993.33,0.0101) (1993.35,0.0035) (1993.37,0.0096) (1993.42,0.0030) (1993.46,0.0085) (1993.48,0.0033) (1993.50,0.0051) (1993.52,0.0052) (1993.54,0.0007) (1993.57,0.0025) (1993.59,0.0101) (1993.63,0.0024) (1993.66,0.0007) (1993.67,0.0066) (1993.71,0.0025) (1993.76,0.0027) (1993.80,0.0026) (1993.83,0.0060) (1993.84,0.0250) (1993.89,0.0027) (1993.93,0.0085) (1993.97,0.0038) (1994.00,0.0033) (1994.02,0.0030) (1994.06,0.0022) (1994.08,0.0096) (1994.10,0.0101) (1994.19,0.0167) (1994.31,0.0030) (1994.36,0.0033) (1994.44,0.0046) (1994.49,0.0022) (1994.53,0.0057) (1994.57,0.0037) (1994.61,0.0022) (1994.66,0.0049) (1994.70,0.0025) (1994.74,0.0027) (1994.79,0.0019) (1994.83,0.0026) (1994.87,0.0041) (1994.91,0.0033) (1994.96,0.0025) (1995.00,0.0052) (1995.04,0.0027) (1995.09,0.0057) (1995.13,0.0068) (1995.17,0.0052) (1995.20,0.0027) (1995.21,0.0046) (1995.26,0.0044) (1995.30,0.0025) (1995.34,0.0027) (1995.39,0.0033) (1995.43,0.0033) (1995.49,0.0035) (1995.56,0.0055) (1995.60,0.0085) (1995.63,0.0052) (1995.64,0.0035) (1995.69,0.0049) (1995.73,0.0041) (1995.77,0.0046) (1995.81,0.0038) (1995.88,0.0074) (1995.94,0.0057) (1995.98,0.0052) (1996.03,0.0057) (1996.07,0.0063) (1996.11,0.0060) (1996.16,0.0049) (1996.20,0.0044) (1996.24,0.0049) (1996.29,0.0044) (1996.33,0.0055) (1996.41,0.0052) (1996.46,0.0046) (1996.50,0.0033) (1996.54,0.0027) (1996.59,0.0046) (1996.63,0.0044) (1996.67,0.0049) (1996.71,0.0052) (1996.80,0.0044) (1996.84,0.0035) (1996.89,0.0093) (1996.91,0.0060)
(1996.70,0.0050) (1996.76,0.0038) (1996.94,0.0060) (1997.01,0.0046) (1997.08,0.0011) (1997.10,0.0072) (1997.12,0.0048) (1997.18,0.0054) (1997.23,0.0052) (1997.25,0.0011) (1997.27,0.0049) (1997.31,0.0046) (1997.34,0.0133) (1997.36,0.0055) (1997.38,0.0011) (1997.43,0.0050) (1997.49,0.0049) (1997.53,0.0044) (1997.56,0.0011) (1997.61,0.0035) (1997.66,0.0052) (1997.70,0.0066) (1997.74,0.0052) (1997.77,0.0071) (1997.83,0.0072) (1997.87,0.0070) (1997.91,0.0130) (1997.96,0.0181) (1998.00,0.0071) (1998.04,0.0046) (1998.09,0.0064) (1998.13,0.0071) (1998.17,0.0049) (1998.21,0.0076) (1998.24,0.0066) (1998.28,0.0034) (1998.32,0.0057) (1998.34,0.0052) (1998.38,0.0055) (1998.43,0.0049) (1998.47,0.0044) (1998.51,0.0060) (1998.56,0.0066) (1998.60,0.0114) (1998.64,0.0068) (1998.68,0.0055) (1998.73,0.0078) (1998.77,0.0187) (1998.80,0.0055) (1998.86,0.0063) (1998.90,0.0066) (1998.94,0.0079) (1998.99,0.0074) (1999.03,0.0055) (1999.05,0.0150) (1999.07,0.0082) (1999.11,0.0035) (1999.16,0.0094) (1999.20,0.0093) (1999.24,0.0055) (1999.29,0.0076) (1999.33,0.0060) (1999.37,0.0076) (1999.41,0.0057) (1999.46,0.0066) (1999.50,0.0074) (1999.54,0.0060) (1999.59,0.0082) (1999.63,0.0055) (1999.67,0.0066) (1999.71,0.0169) (1999.74,0.0071) (1999.77,0.0098) (1999.80,0.0052) (1999.82,0.0087) (1999.86,0.0139) (1999.88,0.0109) (1999.91,0.0096) (1999.93,0.0082) (1999.94,0.0055) (1999.97,0.0093) (1999.99,0.0063)
(2000.01,0.0120) (2000.03,0.0150) (2000.06,0.0071) (2000.10,0.0169) (2000.12,0.0090) (2000.18,0.0106) (2000.23,0.0156) (2000.31,0.0153) (2000.36,0.0094) (2000.44,0.0098) (2000.48,0.0098) (2000.57,0.0106) (2000.61,0.0132) (2000.66,0.0083) (2000.70,0.0076) (2000.78,0.0090) (2000.83,0.0120) (2000.87,0.0115) (2000.91,0.0068) (2000.96,0.0117) (2000.97,0.0096) (2001.00,0.0071) (2001.04,0.0093) (2001.06,0.0079) (2001.08,0.0142) (2001.11,0.0128) (2001.13,0.0183) (2001.14,0.0123) (2001.17,0.0066) (2001.19,0.0186) (2001.21,0.0199) (2001.23,0.0194) (2001.26,0.0156) (2001.27,0.0098) (2001.30,0.0071) (2001.32,0.0115) (2001.34,0.0178) (2001.37,0.0057) (2001.38,0.0087) (2001.41,0.0093) (2001.43,0.0066) (2001.45,0.0055) (2001.49,0.0085) (2001.51,0.0093) (2001.54,0.0076) (2001.56,0.0068) (2001.57,0.0060) (2001.60,0.0066) (2001.62,0.0093) (2001.64,0.0097) (2001.66,0.0126) (2001.68,0.0066) (2001.71,0.0145) (2001.73,0.0210) (2001.74,0.0098) (2001.77,0.0104) (2001.80,0.0139) (2001.81,0.0150) (2001.83,0.0123) (2001.86,0.0188) (2001.88,0.0126) (2001.90,0.0104) (2001.92,0.0126) (2001.94,0.0104) (2001.97,0.0115) (2001.98,0.0127)
(2001.81,0.0463) (2001.84,0.0330) (2001.36,0.0179) (2001.15,0.0184) (2001.85,0.0190)
(2002.03,0.0076) (2002.05,0.0117) (2002.09,0.0131) (2002.16,0.0167) (2002.17,0.0147) (2002.20,0.0180) (2002.22,0.0098) (2002.24,0.0145) (2002.26,0.0137) (2002.28,0.0115) (2002.33,0.0066) (2002.34,0.0109) (2002.37,0.0112) (2002.40,0.0104) (2002.41,0.0090) (2002.46,0.0079) (2002.50,0.0085) (2002.54,0.0057) (2002.57,0.0085) (2002.58,0.0156) (2002.63,0.0134) (2002.67,0.0082) (2002.71,0.0109) (2002.74,0.0117) (2002.76,0.0082) (2002.77,0.0098) (2002.80,0.0115) (2002.82,0.0112) (2002.84,0.0071) (2002.88,0.0066) (2002.93,0.0071) (2002.97,0.0090) (2003.01,0.0076) (2003.06,0.0123) (2003.08,0.0109) (2003.10,0.0052) (2003.14,0.0060) (2003.17,0.0082) (2003.20,0.0041) (2003.23,0.0082) (2003.25,0.0169) (2003.27,0.0071) (2003.29,0.0049) (2003.31,0.0076) (2003.36,0.0057) (2003.40,0.0068) (2003.42,0.0052) (2003.44,0.0079) (2003.48,0.0055) (2003.53,0.0049) (2003.57,0.0076) (2003.61,0.0071) (2003.63,0.0085) (2003.66,0.0076) (2003.70,0.0049) (2003.71,0.0066) (2003.74,0.0060) (2003.78,0.0052) (2003.83,0.0101) (2003.84,0.0134) (2003.87,0.0055) (2003.91,0.0046) (2003.95,0.0071) (2004.00,0.0063) (2004.02,0.0085) (2004.06,0.0076) (2004.08,0.0049) (2004.13,0.0066) (2004.17,0.0060) (2004.21,0.0057) (2004.25,0.0085) (2004.28,0.0052) (2004.31,0.0055) (2004.34,0.0044) (2004.37,0.0057) (2004.40,0.0055) (2004.43,0.0066) (2004.47,0.0076) (2004.49,0.0035) (2004.51,0.0060) (2004.54,0.0060) (2004.55,0.0083) (2004.57,0.0057) (2004.60,0.0022) (2004.62,0.0025) (2004.64,0.0057) (2004.68,0.0066) (2004.71,0.0049) (2004.73,0.0052) (2004.74,0.0165)
};
\end{axis}
\end{tikzpicture}
\end{document}
